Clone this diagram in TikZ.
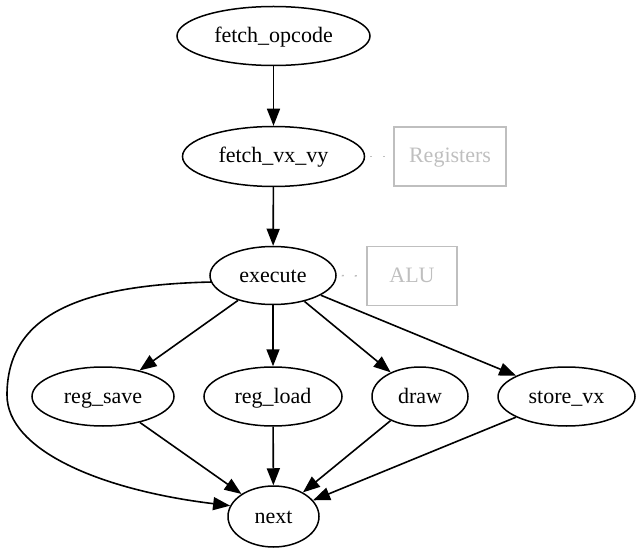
\documentclass[tikz,border=0pt]{standalone}
\usepackage{fontspec}
\setmainfont{Liberation Serif}
\usetikzlibrary{arrows.meta, shapes.geometric}

\begin{document}
\begin{tikzpicture}[x=1pt, y=-1pt,
    state/.style={draw, ellipse, line width=1.5pt, inner sep=0pt, text height=16pt, text depth=3pt, font=\fontsize{22}{26}\selectfont},
    unit/.style={draw=black!25, rectangle, line width=1.5pt, inner sep=0pt, text height=16pt, text depth=3pt, text=black!25, font=\fontsize{22}{26}\selectfont, minimum width=#1, minimum height=59pt},
    flow/.style={-{Triangle[length=17pt, width=13pt]}, line width=1.6pt},
    link/.style={draw=black!25, line width=1.6pt, dash pattern=on 2pt off 11pt, dash phase=-5pt}]
    \useasboundingbox (0,0) rectangle (642,553);
    \node [state, minimum width=193pt, minimum height=59pt] (fopc) at (273.5,36) {fetch\_opcode};
    \node [state, minimum width=182pt, minimum height=60pt] (fvxvy) at (273.5,156.5) {fetch\_vx\_vy};
    \node [state, minimum width=126pt, minimum height=58pt] (exec) at (273,275.5) {execute};
    \node [state, minimum width=142pt, minimum height=59pt] (rsave) at (103,396.5) {reg\_save};
    \node [state, minimum width=138pt, minimum height=59pt] (rload) at (273,396.5) {reg\_load};
    \node [state, minimum width=96pt, minimum height=59pt] (drw) at (420,396.5) {draw};
    \node [state, minimum width=137pt, minimum height=59pt] (svx) at (566.5,396.5) {store\_vx};
    \node [state, minimum width=91pt, minimum height=61pt] (nxt) at (273.5,516.5) {next};
    \node [unit=112pt] (regs) at (450,156.5) {Registers};
    \node [unit=90pt] (alu) at (412,276) {ALU};
    % main flow
    \draw [flow] (fopc) -- (fvxvy);
    \draw [flow] (fvxvy) -- (exec);
    \foreach \t in {rsave, rload, drw, svx} {
        \draw [flow] (exec) -- (\t);
        \draw [flow] (\t) -- (nxt);
    }
    \draw [flow] (exec.186) .. controls (80,285) and (7,315) .. (7,395) .. controls (7,450) and (100,490) .. (nxt.166);
    % side units
    \draw [link] (fvxvy.east) -- (regs.west);
    \draw [link] (exec.east) -- (alu.west);
\end{tikzpicture}
\end{document}
